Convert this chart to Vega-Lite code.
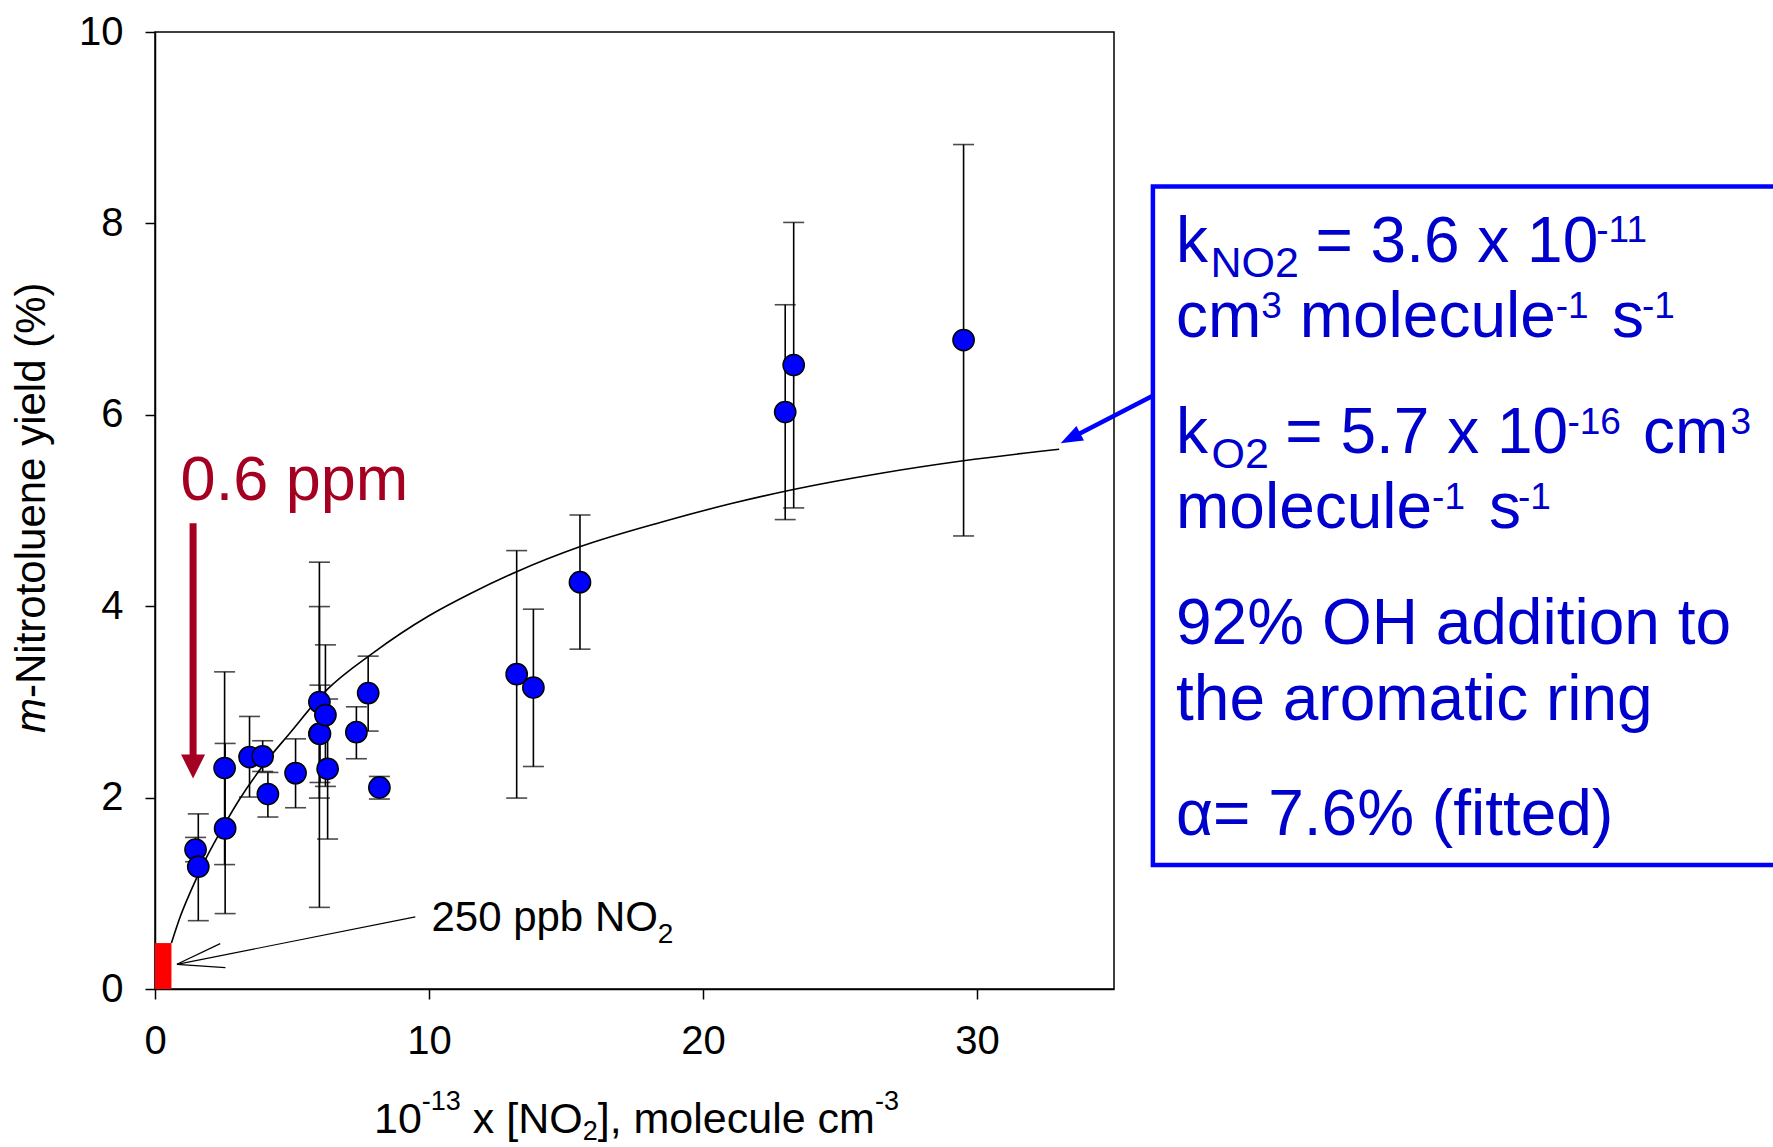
{
  "$schema": "https://vega.github.io/schema/vega-lite/v6.json",
  "autosize": "none",
  "width": 959,
  "height": 957,
  "padding": {"left": 155, "top": 32, "right": 659, "bottom": 158},
  "background": "white",
  "config": {
    "font": "Liberation Sans",
    "view": {"stroke": "black", "strokeWidth": 1.5},
    "axis": {"grid": false, "domainColor": "black", "domainWidth": 1.5, "tickColor": "black", "tickWidth": 1.5, "tickSize": 10, "labelColor": "black", "labelFontSize": 40, "labelFont": "Liberation Sans", "labelPadding": 22, "labelFlush": false, "labelOverlap": false}
  },
  "datasets": {
    "pts": [
      {"x": 1.48, "y": 1.457, "lo": 1.33, "hi": 1.584},
      {"x": 1.58, "y": 1.278, "lo": 0.714, "hi": 1.83},
      {"x": 2.54, "y": 2.309, "lo": 1.30, "hi": 3.314},
      {"x": 2.56, "y": 1.678, "lo": 0.788, "hi": 2.566},
      {"x": 3.45, "y": 2.424, "lo": 2.006, "hi": 2.848},
      {"x": 3.93, "y": 2.43, "lo": 2.273, "hi": 2.594},
      {"x": 4.12, "y": 2.037, "lo": 1.797, "hi": 2.263},
      {"x": 5.13, "y": 2.256, "lo": 1.894, "hi": 2.614},
      {"x": 6.0, "y": 2.998, "lo": 1.995, "hi": 3.996},
      {"x": 6.0, "y": 2.667, "lo": 0.853, "hi": 4.46},
      {"x": 6.02, "y": 2.667, "lo": 2.158, "hi": 3.175},
      {"x": 6.22, "y": 2.862, "lo": 2.117, "hi": 3.596},
      {"x": 6.3, "y": 2.301, "lo": 1.567, "hi": 3.03},
      {"x": 7.35, "y": 2.684, "lo": 2.406, "hi": 2.949},
      {"x": 7.78, "y": 3.092, "lo": 2.695, "hi": 3.478},
      {"x": 8.19, "y": 2.106, "lo": 1.985, "hi": 2.221},
      {"x": 13.2, "y": 3.29, "lo": 1.995, "hi": 4.581},
      {"x": 13.81, "y": 3.15, "lo": 2.325, "hi": 3.969},
      {"x": 15.51, "y": 4.251, "lo": 3.551, "hi": 4.953},
      {"x": 23.0, "y": 6.029, "lo": 4.905, "hi": 7.15},
      {"x": 23.31, "y": 6.52, "lo": 5.027, "hi": 8.01},
      {"x": 29.51, "y": 6.781, "lo": 4.734, "hi": 8.824}
    ],
    "curve": [
      {"x": 0.6, "y": 0.48}, {"x": 0.9, "y": 0.74}, {"x": 1.3, "y": 1.02}, {"x": 1.87, "y": 1.37},
      {"x": 2.5, "y": 1.70}, {"x": 3.08, "y": 1.98}, {"x": 3.93, "y": 2.33}, {"x": 4.91, "y": 2.67},
      {"x": 6.25, "y": 3.12}, {"x": 7.95, "y": 3.51}, {"x": 10.0, "y": 3.90}, {"x": 11.5, "y": 4.13},
      {"x": 13.2, "y": 4.36}, {"x": 15.5, "y": 4.62}, {"x": 18.5, "y": 4.88}, {"x": 21.0, "y": 5.07},
      {"x": 23.3, "y": 5.22}, {"x": 26.5, "y": 5.39}, {"x": 29.5, "y": 5.52}, {"x": 33.0, "y": 5.64}
    ]
  },
  "encoding": {
    "x": {"field": "x", "type": "quantitative", "scale": {"domain": [0, 35], "nice": false, "zero": false}, "axis": {"values": [0, 10, 20, 30], "title": null}},
    "y": {"field": "y", "type": "quantitative", "scale": {"domain": [0, 10], "nice": false, "zero": false}, "axis": {"values": [0, 2, 4, 6, 8, 10], "title": null}}
  },
  "layer": [
    {
      "data": {"values": [{"x": 0, "x2": 0.6, "y": 0, "y2": 0.48}]},
      "mark": {"type": "rect", "fill": "#FF0000", "stroke": null},
      "encoding": {"x2": {"field": "x2"}, "y2": {"field": "y2"}}
    },
    {
      "data": {"name": "curve"},
      "mark": {"type": "line", "color": "black", "strokeWidth": 1.6, "interpolate": "monotone"}
    },
    {
      "data": {"values": [
        {"x": 9.5, "y": 0.753, "x2": 0.8, "y2": 0.258},
        {"x": 0.8, "y": 0.258, "x2": 2.38, "y2": 0.474},
        {"x": 0.8, "y": 0.258, "x2": 2.57, "y2": 0.223}
      ]},
      "mark": {"type": "rule", "color": "black", "strokeWidth": 1.2},
      "encoding": {"x2": {"field": "x2"}, "y2": {"field": "y2"}}
    },
    {
      "data": {"name": "pts"},
      "mark": {"type": "rule", "color": "black", "strokeWidth": 1.6},
      "encoding": {
        "y": {"field": "lo", "type": "quantitative", "scale": {"domain": [0, 10], "nice": false, "zero": false}, "axis": {"values": [0, 2, 4, 6, 8, 10], "title": null}},
        "y2": {"field": "hi"}
      }
    },
    {
      "data": {"name": "pts"},
      "mark": {"type": "tick", "orient": "horizontal", "color": "black", "size": 21, "thickness": 1.6},
      "encoding": {
        "y": {"field": "hi", "type": "quantitative", "scale": {"domain": [0, 10], "nice": false, "zero": false}, "axis": {"values": [0, 2, 4, 6, 8, 10], "title": null}}
      }
    },
    {
      "data": {"name": "pts"},
      "mark": {"type": "tick", "orient": "horizontal", "color": "black", "size": 21, "thickness": 1.6},
      "encoding": {
        "y": {"field": "lo", "type": "quantitative", "scale": {"domain": [0, 10], "nice": false, "zero": false}, "axis": {"values": [0, 2, 4, 6, 8, 10], "title": null}}
      }
    },
    {
      "data": {"name": "pts"},
      "mark": {"type": "point", "shape": "circle", "filled": true, "fill": "#0000FF", "stroke": "black", "strokeWidth": 1.5, "size": 452, "opacity": 1}
    },
    {
      "data": {"values": [{"x": 1.39, "y": 4.867, "y2": 2.42}]},
      "mark": {"type": "rule", "color": "#A50021", "strokeWidth": 7},
      "encoding": {"y2": {"field": "y2"}}
    },
    {
      "data": {"values": [{"x": 1.39, "y": 2.325}]},
      "mark": {"type": "point", "shape": "M-1,-1L1,-1L0,1Z", "filled": true, "fill": "#A50021", "strokeWidth": 0, "size": 576, "opacity": 1}
    },
    {
      "data": {"values": [{"x": 36.42, "y": 6.2, "x2": 33.45, "y2": 5.76}]},
      "mark": {"type": "rule", "color": "#0000FF", "strokeWidth": 4.5},
      "encoding": {"x2": {"field": "x2"}, "y2": {"field": "y2"}}
    },
    {
      "data": {"values": [{"x": 33.41, "y": 5.755}]},
      "mark": {"type": "point", "shape": "M1,0L-1,-0.75L-1,0.75Z", "angle": 152.8, "filled": true, "fill": "#0000FF", "strokeWidth": 0, "size": 484, "opacity": 1}
    },
    {
      "data": {"values": [{"x": 36.42, "x2": 62, "y": 8.386, "y2": 1.296}]},
      "mark": {"type": "rect", "fill": "white", "fillOpacity": 0, "stroke": "#0000FF", "strokeWidth": 4.5},
      "encoding": {"x2": {"field": "x2"}, "y2": {"field": "y2"}}
    },
    {
      "data": {"values": [{"x": 0.934, "y": 5.11, "t": "0.6 ppm"}]},
      "mark": {"type": "text", "align": "left", "baseline": "alphabetic", "fontSize": 63, "color": "#A50021"},
      "encoding": {"text": {"field": "t"}}
    },
    {
      "data": {"values": [{"x": 10.088, "y": 0.609, "t": "250 ppb NO"}]},
      "mark": {"type": "text", "align": "left", "baseline": "alphabetic", "fontSize": 42, "color": "black"},
      "encoding": {"text": {"field": "t"}}
    },
    {
      "data": {"values": [{"x": 18.35, "y": 0.478, "t": "2"}]},
      "mark": {"type": "text", "align": "left", "baseline": "alphabetic", "fontSize": 28, "color": "black"},
      "encoding": {"text": {"field": "t"}}
    },
    {
      "data": {"values": [
        {"x": 37.263, "y": 7.6, "t": "k"},
        {"x": 42.35, "y": 7.6, "t": "= 3.6 x 10"},
        {"x": 37.263, "y": 6.816, "t": "cm"},
        {"x": 41.777, "y": 6.816, "t": "molecule"},
        {"x": 53.175, "y": 6.816, "t": "s"},
        {"x": 37.263, "y": 5.598, "t": "k"},
        {"x": 41.25, "y": 5.598, "t": "= 5.7 x 10"},
        {"x": 54.307, "y": 5.598, "t": "cm"},
        {"x": 37.263, "y": 4.814, "t": "molecule"},
        {"x": 48.686, "y": 4.814, "t": "s"},
        {"x": 37.263, "y": 3.6, "t": "92% OH addition to"},
        {"x": 37.263, "y": 2.811, "t": "the aromatic ring"},
        {"x": 37.263, "y": 1.614, "t": "α= 7.6% (fitted)"}
      ]},
      "mark": {"type": "text", "align": "left", "baseline": "alphabetic", "fontSize": 64, "color": "#0000CC"},
      "encoding": {"text": {"field": "t"}}
    },
    {
      "data": {"values": [
        {"x": 38.52, "y": 7.443, "t": "NO2"},
        {"x": 38.56, "y": 5.441, "t": "O2"}
      ]},
      "mark": {"type": "text", "align": "left", "baseline": "alphabetic", "fontSize": 43, "color": "#0000CC"},
      "encoding": {"text": {"field": "t"}}
    },
    {
      "data": {"values": [
        {"x": 52.6, "y": 7.801, "t": "-11"},
        {"x": 40.376, "y": 7.015, "t": "3"},
        {"x": 51.124, "y": 7.015, "t": "-1"},
        {"x": 54.27, "y": 7.015, "t": "-1"},
        {"x": 51.55, "y": 5.796, "t": "-16"},
        {"x": 57.5, "y": 5.796, "t": "3"},
        {"x": 46.609, "y": 5.012, "t": "-1"},
        {"x": 49.745, "y": 5.012, "t": "-1"}
      ]},
      "mark": {"type": "text", "align": "left", "baseline": "alphabetic", "fontSize": 37, "color": "#0000CC"},
      "encoding": {"text": {"field": "t"}}
    },
    {
      "data": {"values": [
        {"x": 7.993, "y": -1.505, "t": "10"},
        {"x": 11.599, "y": -1.505, "t": "x [NO"},
        {"x": 16.157, "y": -1.505, "t": "], molecule cm"}
      ]},
      "mark": {"type": "text", "align": "left", "baseline": "alphabetic", "fontSize": 43, "color": "black"},
      "encoding": {"text": {"field": "t"}}
    },
    {
      "data": {"values": [
        {"x": 9.737, "y": -1.264, "t": "-13"},
        {"x": 26.274, "y": -1.264, "t": "-3"},
        {"x": 15.609, "y": -1.578, "t": "2"}
      ]},
      "mark": {"type": "text", "align": "left", "baseline": "alphabetic", "fontSize": 27, "color": "black"},
      "encoding": {"text": {"field": "t"}}
    },
    {
      "data": {"values": [{"x": -4.015, "y": 2.675, "t": "m"}]},
      "mark": {"type": "text", "align": "left", "baseline": "alphabetic", "fontSize": 42, "fontStyle": "italic", "angle": 270, "color": "black"},
      "encoding": {"text": {"field": "t"}}
    },
    {
      "data": {"values": [{"x": -4.015, "y": 3.041, "t": "-Nitrotoluene yield (%)"}]},
      "mark": {"type": "text", "align": "left", "baseline": "alphabetic", "fontSize": 42, "angle": 270, "color": "black"},
      "encoding": {"text": {"field": "t"}}
    }
  ]
}
